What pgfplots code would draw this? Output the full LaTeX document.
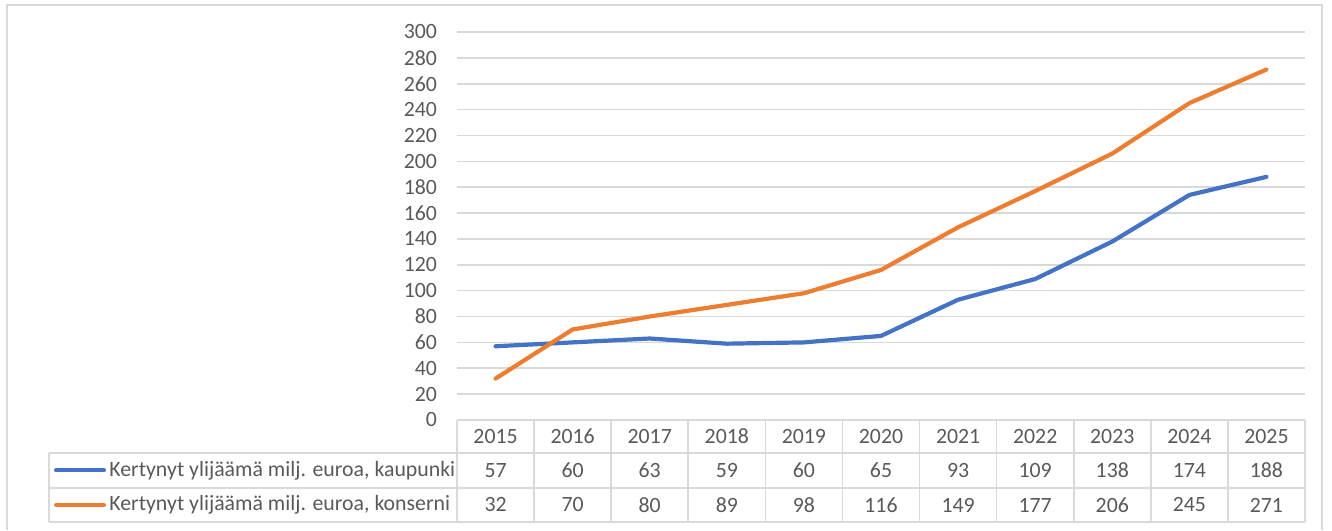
\documentclass[border=0pt]{standalone}
\usepackage{pgfplots}
\pgfplotsset{compat=1.18}
\usepackage{fontspec}
\setmainfont{Carlito}
\definecolor{blueS}{HTML}{4472C4}
\definecolor{orangeS}{HTML}{ED7D31}
\definecolor{gridc}{HTML}{D9D9D9}
\definecolor{txt}{HTML}{595959}
\begin{document}
\begin{tikzpicture}[x=1pt,y=1pt]
\path (0,0) rectangle (666,265);
\draw[gridc, line width=0.75pt] (3.5,0) -- (3.5,262.5) -- (661,262.5) -- (661,0);
\begin{axis}[at={(228.5pt,55pt)}, anchor=south west, scale only axis,
  width=424pt, height=194pt, xmin=-0.5, xmax=10.5, ymin=0, ymax=300,
  ytick={0,20,...,300}, xtick=\empty, axis line style={draw=none},
  ymajorgrids, grid style={gridc, line width=0.8pt}, major tick length=0pt,
  yticklabel style={txt, font=\fontsize{10.9}{13}\selectfont, xshift=-6.5pt},
  /pgf/number format/assume math mode=true, clip=false]
\addplot[blueS, line width=2.1pt, line join=round, line cap=round] coordinates {
(0,57) (1,60) (2,63) (3,59) (4,60) (5,65) (6,93) (7,109) (8,138) (9,174) (10,188)};
\addplot[orangeS, line width=2.1pt, line join=round, line cap=round] coordinates {
(0,32) (1,70) (2,80) (3,89) (4,98) (5,116) (6,149) (7,177) (8,206) (9,245) (10,271)};
\end{axis}
% data table
\begin{scope}[gridc, line width=0.8pt]
\draw (228.5,55) -- (652.5,55);
\draw (24.5,38.5) -- (652.5,38.5);
\draw (24.5,21) -- (652.5,21);
\draw (24.5,4) -- (652.5,4);
\draw (24.5,4) -- (24.5,38.5);
\foreach \i in {0,...,11} { \draw ({228.5+38.545*\i},4) -- ({228.5+38.545*\i},55); }
\end{scope}
\begin{scope}[every node/.style={txt, font=\fontsize{10.9}{13}\selectfont, inner sep=0pt}]
\foreach \v [count=\i from 0] in {2015,2016,2017,2018,2019,2020,2021,2022,2023,2024,2025}
  { \node at ({228.5+38.545*(\i+0.5)},46.75) {\v}; }
\foreach \v [count=\i from 0] in {57,60,63,59,60,65,93,109,138,174,188}
  { \node at ({228.5+38.545*(\i+0.5)},29.75) {\v}; }
\foreach \v [count=\i from 0] in {32,70,80,89,98,116,149,177,206,245,271}
  { \node at ({228.5+38.545*(\i+0.5)},12.5) {\v}; }
\draw[blueS, line width=2pt, line cap=round] (28,29.75) -- (52,29.75);
\draw[orangeS, line width=2pt, line cap=round] (28,12.5) -- (52,12.5);
\node[anchor=west] at (54.5,29.75) {Kertynyt ylijäämä milj. euroa, kaupunki};
\node[anchor=west] at (54.5,12.5) {Kertynyt ylijäämä milj. euroa, konserni};
\end{scope}
\end{tikzpicture}
\end{document}
